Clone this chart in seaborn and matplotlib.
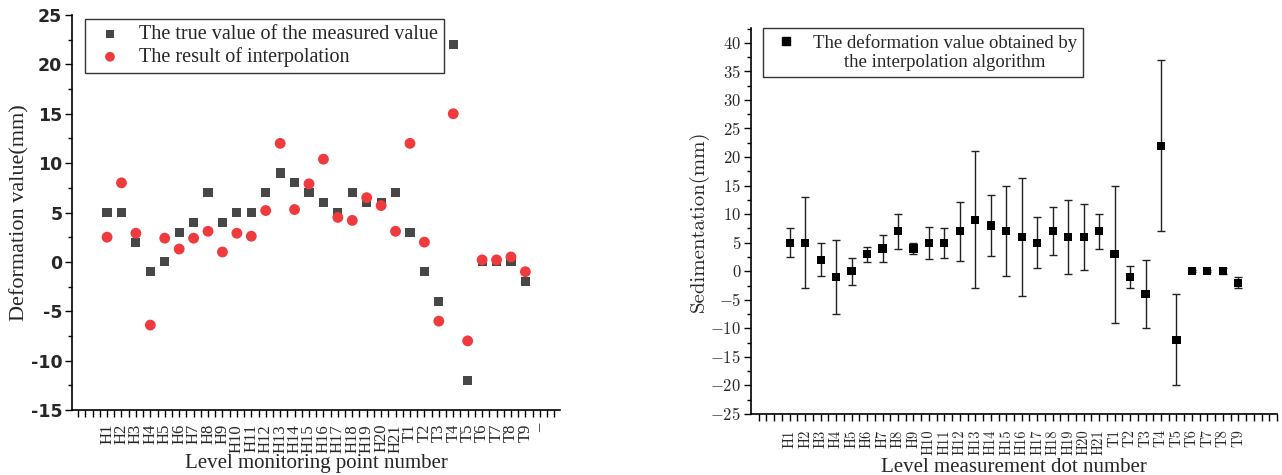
import numpy as np
import pandas as pd
import matplotlib
matplotlib.use("Agg")
import matplotlib.pyplot as plt
import seaborn as sns
from matplotlib.ticker import FixedLocator, MultipleLocator, FixedFormatter
from matplotlib.lines import Line2D
from matplotlib.legend_handler import HandlerLine2D

# ---------------- data ----------------
points = ["H1", "H2", "H3", "H4", "H5", "H6", "H7", "H8", "H9", "H10", "H11",
          "H12", "H13", "H14", "H15", "H16", "H17", "H18", "H19", "H20", "H21",
          "T1", "T2", "T3", "T4", "T5", "T6", "T7", "T8", "T9"]
left_tick_labels = points + ["–"]

true_values = [5, 5, 2, -1, 0, 3, 4, 7, 4, 5, 5, 7, 9, 8, 7, 6, 5, 7, 6, 6, 7,
               3, -1, -4, 22, -12, 0, 0, 0, -2]
interpolated = [2.5, 8.0, 2.9, -6.4, 2.4, 1.3, 2.4, 3.1, 1.0, 2.9, 2.6, 5.2, 12.0,
                5.3, 7.9, 10.4, 4.5, 4.2, 6.5, 5.7, 3.1, 12.0, 2.0, -6.0, 15.0,
                -8.0, 0.2, 0.2, 0.5, -1.0]

sedimentation = [5, 5, 2, -1, 0, 3, 4, 7, 4, 5, 5, 7, 9, 8, 7, 6, 5, 7, 6, 6, 7,
                 3, -1, -4, 22, -12, 0, 0, 0, -2]
sed_error = [2.5, 8.0, 2.9, 6.4, 2.4, 1.3, 2.4, 3.1, 1.0, 2.8, 2.6, 5.2, 12.0,
             5.3, 7.9, 10.3, 4.5, 4.2, 6.5, 5.7, 3.1, 12.0, 2.0, 6.0, 15.0,
             8.0, 0.2, 0.2, 0.5, 1.0]

left_legend = ["The true value of the measured value", "The result of interpolation"]
right_legend = "The deformation value obtained by\nthe interpolation algorithm"

# ---------------- style ----------------
sns.set_style("ticks")
plt.rcParams["font.family"] = ["Liberation Serif", "DejaVu Serif"]
plt.rcParams["mathtext.fontset"] = "cm"
plt.rcParams["axes.unicode_minus"] = False

W, H = 1282, 475
fig = plt.figure(figsize=(W / 100, H / 100), dpi=100)


def frac(x0, y_top, x1, y_bot):
    return [x0 / W, 1 - y_bot / H, (x1 - x0) / W, (y_bot - y_top) / H]


def style_spines(ax):
    for side in ["top", "right"]:
        ax.spines[side].set_visible(False)
    for side in ["left", "bottom"]:
        ax.spines[side].set_linewidth(1.2)
        ax.spines[side].set_color("black")


# ---------------- left chart ----------------
ax1 = fig.add_axes(frac(72, 15, 560, 410))
df_left = pd.DataFrame({"idx": np.arange(len(points)), "true": true_values,
                        "interp": interpolated})
sns.scatterplot(data=df_left, x="idx", y="true", ax=ax1, marker="s", s=6.6 ** 2,
                color="#474747", edgecolor="none", linewidth=0, label=left_legend[0],
                zorder=3)
sns.scatterplot(data=df_left, x="idx", y="interp", ax=ax1, marker="o", s=7.8 ** 2,
                color="#EF3A3E", edgecolor="none", linewidth=0, label=left_legend[1],
                zorder=4)
ax1.set_xlim(-2.43, 31.4)
ax1.set_ylim(-15, 25)
ax1.xaxis.set_major_locator(FixedLocator(np.arange(0, len(left_tick_labels))))
ax1.xaxis.set_major_formatter(FixedFormatter(left_tick_labels))
ax1.xaxis.set_minor_locator(FixedLocator(np.arange(-2, 31.5, 0.5)))
for lab in ax1.get_xticklabels():
    lab.set_rotation(90)
    lab.set_fontsize(12)
ax1.set_yticks(np.arange(-15, 26, 5))
ax1.set_yticklabels([str(v) for v in range(-15, 26, 5)],
                    fontfamily=["Liberation Sans Narrow", "DejaVu Sans"],
                    fontweight="bold", fontsize=12.5)
ax1.yaxis.set_minor_locator(MultipleLocator(2.5))
ax1.tick_params(axis="both", which="major", direction="out", length=5, width=1,
                color="black", pad=2)
ax1.tick_params(axis="both", which="minor", direction="out", length=3, width=1,
                color="black")
ax1.tick_params(axis="x", which="major", pad=5)
ax1.tick_params(axis="x", which="minor", length=5)
ax1.set_xlabel("Level monitoring point number", fontsize=15, labelpad=1)
ax1.set_ylabel("Deformation value(mm)", fontsize=16, labelpad=1)
style_spines(ax1)
leg1 = ax1.legend(loc="upper left", bbox_to_anchor=(85 / W, 1 - 19 / H),
                  bbox_transform=fig.transFigure, frameon=True, fancybox=False,
                  edgecolor="black", fontsize=14.5, borderaxespad=0, borderpad=0.3,
                  handletextpad=0.5, labelspacing=0.15, handlelength=1.88,
                  markerscale=0.9)
leg1.get_frame().set_linewidth(1.0)

# ---------------- right chart ----------------
ax2 = fig.add_axes(frac(751, 28, 1277, 414))
df_right = pd.DataFrame({"idx": np.arange(len(points)), "sed": sedimentation,
                         "err": sed_error})
ax2.errorbar(df_right["idx"], df_right["sed"], yerr=df_right["err"], fmt="none",
             ecolor="#222222", elinewidth=1, capsize=3, capthick=1, zorder=2)
sns.scatterplot(data=df_right, x="idx", y="sed", ax=ax2, marker="s", s=5.9 ** 2,
                color="black", edgecolor="none", linewidth=0, zorder=3, legend=False)
ax2.set_xlim(-2.5, 31.5)
ax2.set_ylim(-25, 42.6)
ax2.xaxis.set_major_locator(FixedLocator(np.arange(0, len(points))))
ax2.xaxis.set_major_formatter(FixedFormatter(points))
ax2.xaxis.set_minor_locator(FixedLocator(np.arange(-2, 31.6, 0.5)))
ax2.set_yticks(np.arange(-25, 41, 5))
ax2.set_yticklabels([r"$%d$" % v for v in range(-25, 41, 5)], fontsize=12)
ax2.yaxis.set_minor_locator(MultipleLocator(2.5))
for lab in ax2.get_xticklabels():
    lab.set_rotation(90)
    lab.set_fontsize(10.5)
    lab.set_fontfamily("cmr10")
ax2.tick_params(axis="both", which="major", direction="out", length=5, width=1,
                color="black", pad=2)
ax2.tick_params(axis="both", which="minor", direction="out", length=3, width=1,
                color="black")
ax2.tick_params(axis="x", which="major", pad=6)
ax2.tick_params(axis="x", which="minor", length=5)
ax2.set_xlabel("Level measurement dot number", fontsize=15, labelpad=2)
ax2.set_ylabel("Sedimentation(mm)", fontsize=15, fontfamily="cmr10", labelpad=1)
style_spines(ax2)


class UpperLineHandler(HandlerLine2D):
    """Place the marker level with the first line of a two-line label."""
    def create_artists(self, legend, orig_handle, xdescent, ydescent, width,
                       height, fontsize, trans):
        arts = super().create_artists(legend, orig_handle, xdescent, ydescent,
                                      width, height, fontsize, trans)
        for a in arts:
            a.set_ydata(np.asarray(a.get_ydata(), dtype=float) + 0.58 * fontsize)
        return arts


proxy = Line2D([], [], marker="s", color="black", linestyle="none", markersize=6)
leg2 = ax2.legend(handles=[proxy], labels=[right_legend],
                  handler_map={proxy: UpperLineHandler()},
                  loc="upper left", bbox_to_anchor=(763 / W, 1 - 28 / H),
                  bbox_transform=fig.transFigure, frameon=True, fancybox=False,
                  edgecolor="black", fontsize=13.5, borderaxespad=0, borderpad=0.3,
                  handletextpad=0.52, handlelength=1.84)
leg2.get_frame().set_linewidth(1.0)
for t in leg2.get_texts():
    t.set_multialignment("center")

fig.savefig("out.png", dpi=100)
